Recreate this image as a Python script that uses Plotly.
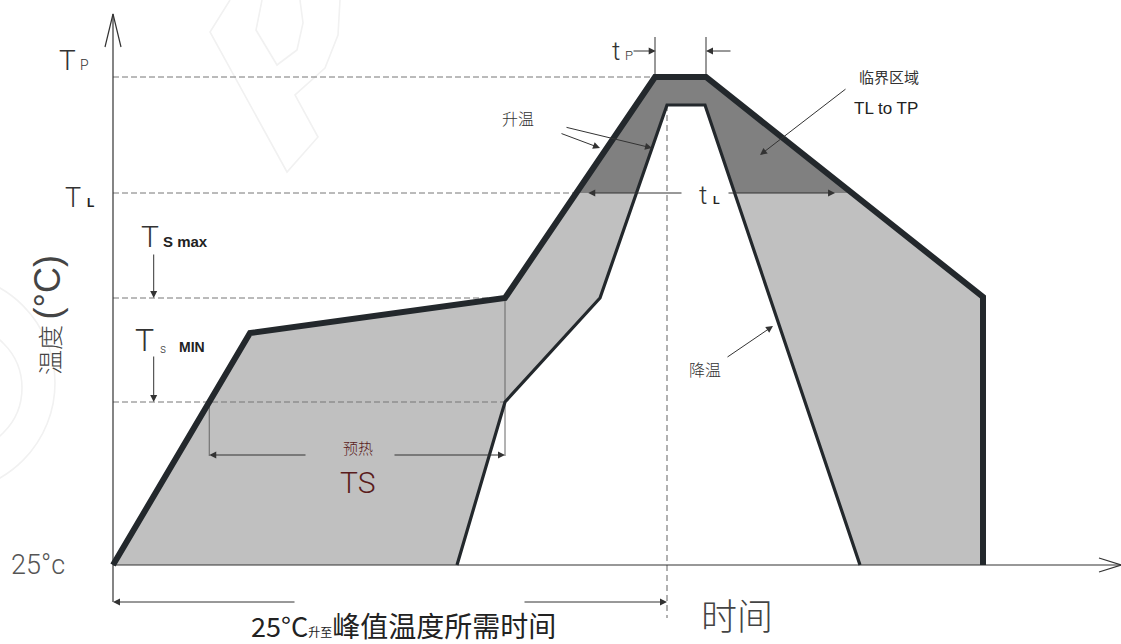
import numpy as np
import plotly.graph_objects as go

# ---- data (schematic reflow profile; time units, temperature units) ----
outer_t = [0, 137, 392, 542, 593, 870, 870]
outer_T = [0, 232, 267, 488, 488, 268, 0]
inner_t = [344, 392, 487, 554, 592, 747]
inner_T = [0, 163, 267, 460, 460, 0]

T_P = 488
T_L = 372
Ts_max = 267
Ts_min = 163
peak_time = 554

# faint background watermark outline ("P" logo)
wm_outer_t = [117, 97, 174, 205, 182, 212, 225, 227]
wm_outer_T = [565, 533, 393, 428, 470, 497, 530, 565]
wm_inner_t = [149, 143, 164, 184, 190, 187]
wm_inner_T = [565, 535, 500, 515, 542, 565]

LINE = "#23282c"
LIGHT = "#c0c0c0"
DARK = "#808080"
DASH = "#777777"
THIN = "#333333"
RED = "#5a1c1c"
WM = "#f1f1f1"

def cross(ts, Ts, level, i0):
    """x where segment i0 -> i0+1 reaches level"""
    t0, t1 = ts[i0], ts[i0 + 1]
    y0, y1 = Ts[i0], Ts[i0 + 1]
    return t0 + (t1 - t0) * (level - y0) / (y1 - y0)

oL = cross(outer_t, outer_T, T_L, 2)
oR = cross(outer_t, outer_T, T_L, 4)
iL = cross(inner_t, inner_T, T_L, 2)
iR = cross(inner_t, inner_T, T_L, 4)

fig = go.Figure()

def seg(xs, ys, color=THIN, width=1, dash=None):
    fig.add_trace(go.Scatter(x=xs, y=ys, mode="lines",
                             line=dict(color=color, width=width, dash=dash),
                             hoverinfo="skip"))

# watermark
seg(wm_outer_t, wm_outer_T, WM, 1.6)
seg(wm_inner_t, wm_inner_T, WM, 1.6)

# light fill (whole window)
fx = outer_t + inner_t[::-1] + [outer_t[0]]
fy = outer_T + inner_T[::-1] + [outer_T[0]]
fig.add_trace(go.Scatter(x=fx, y=fy, fill="toself", fillcolor=LIGHT, mode="none", hoverinfo="skip"))

# dark fill (TL to TP)
dx = [oL, outer_t[3], outer_t[4], oR, iR, inner_t[4], inner_t[3], iL, oL]
dy = [T_L, outer_T[3], outer_T[4], T_L, T_L, inner_T[4], inner_T[3], T_L, T_L]
fig.add_trace(go.Scatter(x=dx, y=dy, fill="toself", fillcolor=DARK, mode="none", hoverinfo="skip"))

# dashed reference lines
seg([0, outer_t[3]], [T_P, T_P], DASH, 1, "6px,3px")
seg([0, oL], [T_L, T_L], DASH, 1, "6px,3px")
seg([0, outer_t[2]], [Ts_max, Ts_max], DASH, 1, "6px,3px")
seg([0, inner_t[1]], [Ts_min, Ts_min], DASH, 1, "6px,3px")
seg([peak_time, peak_time], [inner_T[3], -53], "#888888", 1.3, "6px,4px")

# preheat helper verticals
x_pre0 = cross(outer_t, outer_T, Ts_min, 0)
seg([outer_t[2], outer_t[2]], [Ts_max, 109], "#666666", 1)
seg([x_pre0, x_pre0], [Ts_min, 109], "#666666", 1)
# tP verticals
seg([outer_t[3], outer_t[3]], [T_P, 528], THIN, 1)
seg([outer_t[4], outer_t[4]], [T_P, 528], THIN, 1)

# axes
seg([0, 0], [-37, 551], THIN, 1.2)
seg([-8, 0, 8], [518, 551, 518], THIN, 1.2)
seg([0, 1008], [0, 0], THIN, 1.2)
seg([986, 1008, 986], [7, 0, -7], THIN, 1.2)

# profile lines
seg(outer_t, outer_T, LINE, 6)
seg(inner_t, inner_T, LINE, 3.2)

ann = []
def arrow(x, y, ax, ay, color=THIN):
    ann.append(dict(x=x, y=y, ax=ax, ay=ay, xref="x", yref="y", axref="x", ayref="y",
                    text="", showarrow=True, arrowhead=2, arrowsize=1.4, arrowwidth=1,
                    arrowcolor=color, standoff=0, startstandoff=0))

def label(x, y, text, size, color="#333333", family="Roboto", weight=300, angle=0):
    ann.append(dict(x=x, y=y, xref="x", yref="y", text=text, showarrow=False,
                    textangle=angle,
                    font=dict(size=size, color=color, family=family, weight=weight),
                    xanchor="center", yanchor="middle"))

# arrows
arrow(40.7, Ts_max, 40.7, 312)
arrow(40.7, Ts_min, 40.7, 210)
arrow(x_pre0, 110, 194, 110)
arrow(outer_t[2], 110, 280, 110)
arrow(0, -37, 183, -37)
arrow(peak_time, -37, 410, -37)
arrow(542.7, 514, 519, 514)
arrow(593, 514, 619, 514)
arrow(oL + 12, T_L, 570, T_L)
arrow(oR - 17, T_L, 614, T_L)
arrow(647, 410, 734, 477)
arrow(539, 417, 452, 438)
arrow(487, 417, 447, 432)
arrow(660, 239, 613, 207)

CJK = "Noto Sans CJK SC"
BOLD = "Liberation Sans"
# level labels (letter + subscript placed separately)
label(-45.5, 505, "T", 28)
label(-28.5, 500, "P", 14)
label(-40.5, 367.5, "T", 27)
label(-23, 362, "<b>L</b>", 12, "#222222", BOLD, 700)
label(37, 329, "T", 30)
label(72, 324, "<b>S max</b>", 15, "#222222", BOLD, 700)
label(31.5, 225, "T", 32)
label(49.5, 216.5, "s", 12)
label(78.5, 218.5, "<b>MIN</b>", 14, "#222222", BOLD, 700)
label(503, 514.5, "t", 26)
label(516, 510, "P", 13)
label(589.5, 370, "t", 26)
label(603.5, 365, "<b>L</b>", 11, "#222222", BOLD, 700)

label(-75, 0, "25°c", 27, "#555555")
label(-66, 250, "温度 <span style='font-size:36px;font-family:Liberation Sans'>(°C)</span>", 25,
      "#444444", CJK, 300, -90)
label(776, 489, "临界区域", 15, "#333333", CJK, 400)
label(773, 457, "TL to TP", 17, "#222222", "Liberation Sans", 400)
label(405, 447, "升温", 16, "#333333", CJK, 300)
label(592, 196, "降温", 16, "#333333", CJK, 300)
label(245, 118, "预热", 15, RED, CJK, 300)
label(244, 83, "TS", 30, RED, "Roboto", 300)
label(623.5, -49, "时间", 36, "#444444", CJK, 200)
label(290.5, -60, "25°C<span style='font-size:12px'>升至</span><span style='font-size:28px'>峰值温度所需时间</span>",
      27, "#222222", CJK, 400)

fig.update_layout(
    width=1121, height=644,
    margin=dict(l=0, r=0, t=0, b=0),
    paper_bgcolor="white", plot_bgcolor="white",
    showlegend=False,
    xaxis=dict(range=[-113, 1008], visible=False, fixedrange=True),
    yaxis=dict(range=[-79, 565], visible=False, fixedrange=True),
    annotations=ann,
    shapes=[
        dict(type="circle", xref="x", yref="y", x0=-277, x1=-58, y0=72.5, y1=291.5,
             line=dict(color=WM, width=1.6), layer="below"),
        dict(type="circle", xref="x", yref="y", x0=-217, x1=-91, y0=114, y1=240,
             line=dict(color=WM, width=1.6), layer="below"),
    ],
)

fig.write_html("out.html", config={"displayModeBar": False},
               post_script="document.body.style.margin='0px';document.body.style.overflow='hidden';")
